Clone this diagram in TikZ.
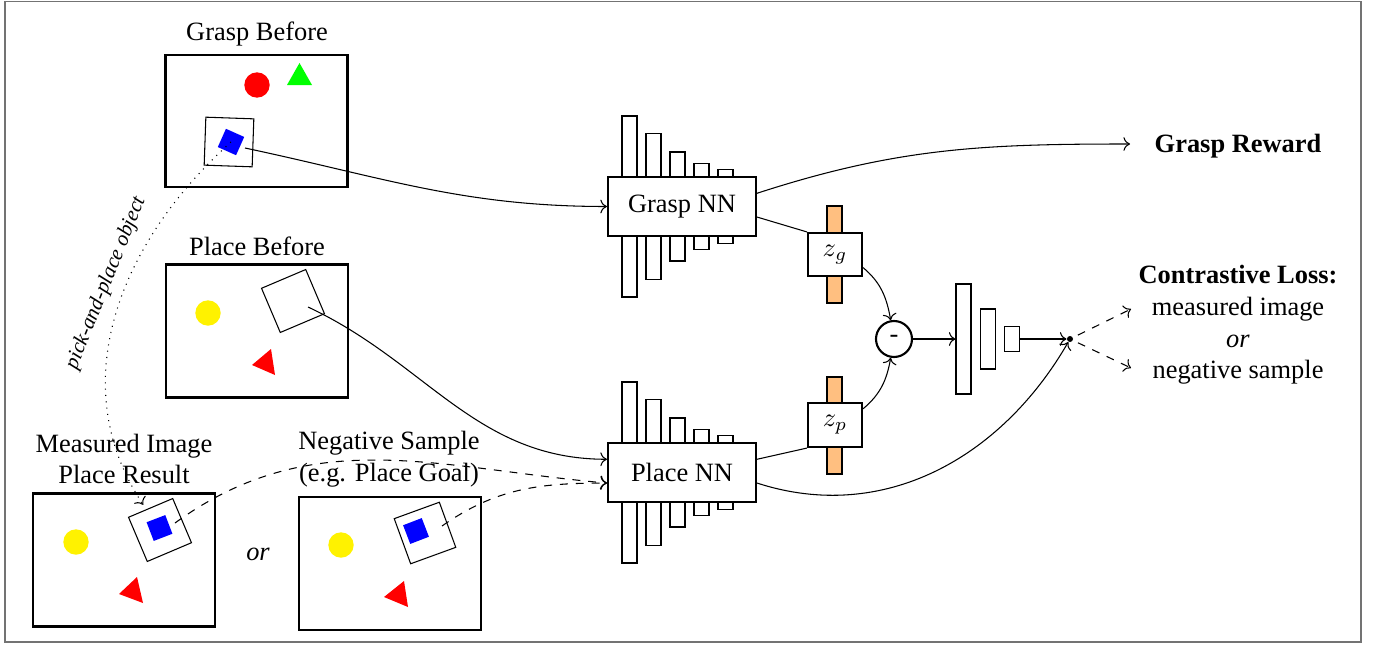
\documentclass[tikz,border=0pt]{standalone}
\usepackage{fontspec}
\setmainfont{Liberation Serif}
\usetikzlibrary{arrows.meta,calc,positioning}
\newcommand\pxu{0.0133cm}
\tikzset{
    scene/.style = {
        draw, thick,
        minimum width=182*\pxu,
        minimum height=133*\pxu,
        },
    gripper/.style = {
        draw, fill=white,
        minimum size=48*\pxu,
        inner sep=0pt,
        },
    object/.style = {
        fill=blue,
        minimum size=20*\pxu,
        inner sep=0pt,
        },
    net/.style = {
        draw, thick, fill=white,
        minimum width=148*\pxu,
        minimum height=59*\pxu,
        },
    layer/.style = {
        draw, thin, fill=white,
        minimum width=15*\pxu,
        inner sep=0pt,
        },
    latent/.style = {
        draw, thick, fill=white,
        minimum width=54*\pxu,
        minimum height=43*\pxu,
        },
    code/.style = {
        draw, thin, fill=orange!50,
        minimum width=15*\pxu,
        minimum height=97*\pxu,
        inner sep=0pt,
        },
}

\begin{document}
\begin{tikzpicture}[x=\pxu, y=\pxu]
            \useasboundingbox (0,0) rectangle (1375,648);
            \draw[black!55, line width=0.6pt] (5,646.5) rectangle (1361,6);

            % grasp before
            \node[scene, minimum height=132*\pxu] (gscene) at (256.5,527) {};
            \node (gtitle) at (257,614) {Grasp Before};
            \fill[red] (257,563) circle[radius=12.7];
            \fill[green] (287,563) -- (312,563) -- (299.5,585) -- cycle;
            \node[gripper, rotate=-2] (ggrip) at (229,506) {};
            \node[object, rotate=-24] (gobj) at (231,506) {};
            \coordinate (gout) at (245,500);

            % place before
            \node[scene] (pscene) at (257,317) {};
            \node (ptitle) at (257,402) {Place Before};
            \fill[yellow] (208,335) circle[radius=12.7];
            \fill[red] (252,283) -- (271,299) -- (275,273) -- cycle;
            \node[gripper, fill=none, rotate=23] (pgrip) at (293,347) {};
            \coordinate (pout) at (308,341);

            % measured image
            \node[scene] (mscene) at (124,88) {};
            \node[align=center] (mtitle) at (124,189) {Measured Image\\Place Result};
            \fill[yellow] (76,106) circle[radius=12.7];
            \fill[red] (119,54) -- (137,71) -- (143,45) -- cycle;
            \node[gripper, rotate=23] (mgrip) at (160,118) {};
            \node[object, rotate=21] (mobj) at (159.5,120) {};
            \coordinate (mout) at (175,125);

            % negative sample
            \node[scene] (nscene) at (390,84.5) {};
            \node[align=center] (ntitle) at (389,189) {Negative Sample\\(e.g. Place Goal)};
            \fill[yellow] (341,103) circle[radius=12.7];
            \fill[red] (384,51) -- (404,67) -- (408,41) -- cycle;
            \node[gripper, rotate=20] (ngrip) at (425,115) {};
            \node[object, rotate=21] (nobj) at (416,117) {};
            \coordinate (nout) at (442,122);

            \node[font=\itshape] (alt) at (258,94) {or};

            % networks
            \foreach \h [count=\i] in {181,146,109,86,74} {
                \node[layer, minimum height=\h*\pxu] at (605.5+24*\i,441.5) {};
                \node[layer, minimum height=\h*\pxu] at (605.5+24*\i,175.5) {};
            }
            \node[net] (gnn) at (682,441.5) {Grasp NN};
            \node[net] (pnn) at (682,175.5) {Place NN};

            \node[code] (gcode) at (834.5,393.5) {};
            \node[latent] (zg) at (835,393.5) {$z_g$};
            \node[code] (pcode) at (834.5,222.5) {};
            \node[latent, minimum height=44*\pxu] (zp) at (835,223) {$z_p$};

            \node[draw, thick, circle, minimum size=36*\pxu, inner sep=0pt] (diff) at (894,309) {-};
            \foreach \h/\x [count=\i] in {110/963.5,60/988,25/1012}
                \node[layer, minimum height=\h*\pxu] (head\i) at (\x,309) {};
            \node[circle, fill, inner sep=0pt, minimum size=6*\pxu] (loss) at (1070,309) {};

            \node[font=\bfseries] (reward) at (1238,502) {Grasp Reward};
            \node[align=center] (contrast) at (1238,323) {\textbf{Contrastive Loss:}\\measured image\\\textit{or}\\negative sample};
            \coordinate (rewend) at (1130,504);
            \coordinate (posend) at (1131,339);
            \coordinate (negend) at (1131,280);

            % inputs
            \draw[->] (gout) to[out=-12, in=180] (gnn.west);
            \draw[->] (pout) to[out=-25, in=180] (pnn.170);
            \draw[->, dotted, shorten >=2pt] (gobj.center) to[out=222, in=120] (mgrip);
            \node[rotate=68, font=\footnotesize\itshape] (pplabel) at (106,365) {pick-and-place object};
            \draw[->, dashed] (mout) to[out=36, in=175] (pnn.188);
            \draw[->, dashed] (nout) to[out=35, in=180] (pnn.188);

            % outputs
            \draw[->] (gnn.10) to[out=18, in=180] (rewend);
            \draw (gnn.-8) -- (zg.north west);
            \draw (pnn.10) -- (zp.south west);
            \draw[->] (pnn.-8) to[out=-18, in=240] (loss);
            \draw[->] (zg.-25) to[out=-40, in=100] (diff);
            \draw[->] (zp.30) to[out=40, in=-100] (diff);
            \draw[->] (diff) -- (head1);
            \draw[->] (head3) -- (loss);
            \draw[->, dashed, shorten <=2pt] (loss) -- (posend);
            \draw[->, dashed, shorten <=2pt] (loss) -- (negend);
        \end{tikzpicture}
\end{document}
